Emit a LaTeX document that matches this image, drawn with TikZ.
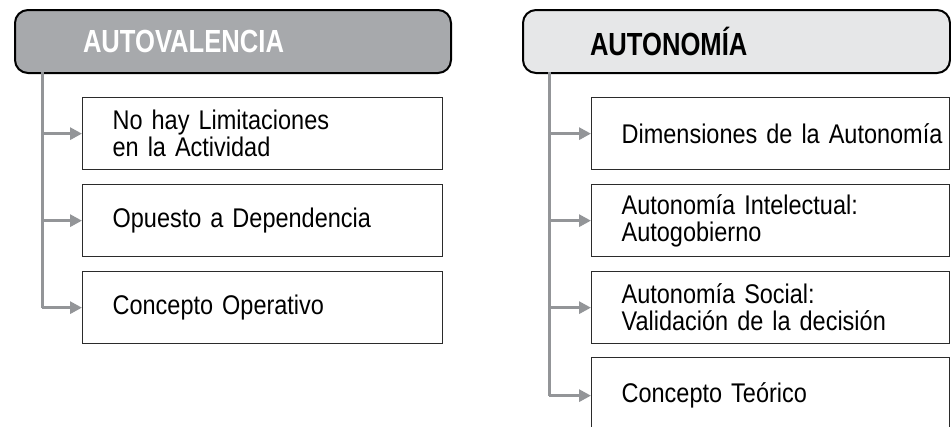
\documentclass[tikz,border=0pt]{standalone}
\usepackage{fontspec}
\setmainfont{Liberation Sans}
\newfontfamily\bodyfont{Liberation Sans}[FakeStretch=0.87]
\newfontfamily\headfont{Liberation Sans}[FakeStretch=0.8]
\usetikzlibrary{arrows.meta}
\definecolor{hdark}{HTML}{A7A9AC}
\definecolor{hlight}{HTML}{E6E7E8}
\definecolor{conngray}{HTML}{939598}
\definecolor{boxline}{HTML}{2B2B2B}
\tikzset{
  header/.style={draw=black, line width=2pt, rounded corners=13pt, anchor=north west,
    minimum height=63pt, align=left, inner ysep=0pt,
    font=\headfont\bfseries\fontsize{32}{34}\selectfont},
  itembox/.style={draw=boxline, line width=1.3pt, fill=white, anchor=north west,
    minimum height=72pt, align=left, inner xsep=30pt, inner ysep=0pt,
    font=\bodyfont\fontsize{27}{27}\selectfont},
  conn/.style={draw=conngray, line width=3pt,
    -{Triangle[length=12pt,width=12pt]}, shorten >=0pt},
  vline/.style={draw=conngray, line width=3pt}
}
\begin{document}
\begin{tikzpicture}[x=1pt,y=-1pt]
\useasboundingbox (0,0) rectangle (951,426);
\clip (0,0) rectangle (951,426);
% left column
\node[header, fill=hdark, text=white, minimum width=436pt, inner xsep=68pt, text width=300pt] (lh) at (14,9) {AUTOVALENCIA};
\node[itembox, minimum width=360pt, text width=300pt] (l1) at (82,97) {No hay Limitaciones\\en la Actividad};
\node[itembox, minimum width=360pt, text width=300pt] (l2) at (82,184) {\mbox{Opuesto a Dependencia}};
\node[itembox, minimum width=360pt, text width=300pt] (l3) at (82,271) {Concepto Operativo};
\coordinate (ltop) at (42,72);
\draw[vline] (ltop) -- (ltop |- l3.west);
\draw[conn] (ltop |- l1.west) -- (l1.west);
\draw[conn] (ltop |- l2.west) -- (l2.west);
\draw[conn] (ltop |- l3.west) -- (l3.west);
% right column
\node[header, fill=hlight, text=black, minimum width=427pt, inner xsep=67pt, text width=293pt] (rh) at (522,9) {AUTONOMÍA};
\node[itembox, minimum width=358pt, text width=298pt] (r1) at (591,97) {\mbox{Dimensiones de la Autonomía}};
\node[itembox, minimum width=358pt, text width=298pt] (r2) at (591,184) {\mbox{Autonomía Intelectual:}\\Autogobierno};
\node[itembox, minimum width=358pt, text width=298pt] (r3) at (591,271) {Autonomía Social:\\\mbox{Validación de la decisión}};
\node[itembox, minimum width=358pt, minimum height=76pt, text width=298pt] (r4) at (591,357) {Concepto Teórico};
\coordinate (rtop) at (549,72);
\draw[vline] (rtop) -- (rtop |- r4.west);
\draw[conn] (rtop |- r1.west) -- (r1.west);
\draw[conn] (rtop |- r2.west) -- (r2.west);
\draw[conn] (rtop |- r3.west) -- (r3.west);
\draw[conn] (rtop |- r4.west) -- (r4.west);
\end{tikzpicture}
\end{document}
